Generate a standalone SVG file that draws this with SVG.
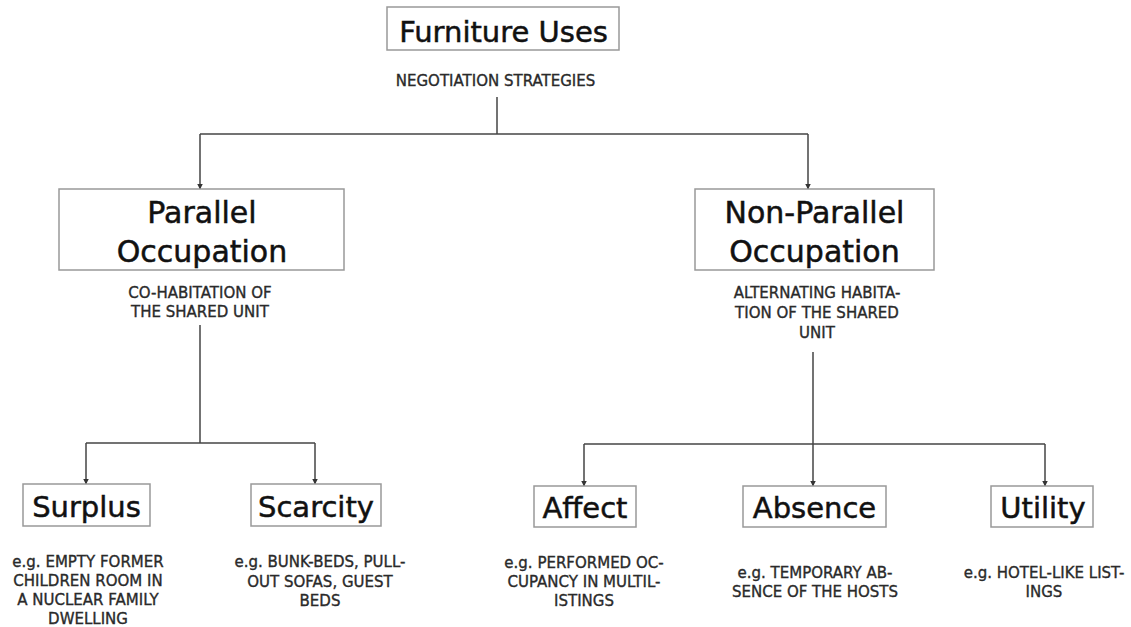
<svg xmlns="http://www.w3.org/2000/svg" width="1131" height="627" viewBox="0 0 1131 627">
  <defs>
    <marker id="arr" markerUnits="userSpaceOnUse" markerWidth="6" markerHeight="6" refX="5.5" refY="3" orient="auto">
      <path d="M0,0 L6,3 L0,6 z" fill="#333"/>
    </marker>
    <style>
      .box { fill: #fff; stroke: #999; stroke-width: 1.5; }
      .t1 { font-family: "DejaVu Sans", "Liberation Sans", sans-serif; font-size: 29px; fill: #111; stroke: #111; stroke-width: 0.5; text-anchor: middle; }
      .t2 { font-family: "DejaVu Sans", "Liberation Sans", sans-serif; font-size: 30px; fill: #111; stroke: #111; stroke-width: 0.5; text-anchor: middle; }
      .sm { font-family: "DejaVu Sans", "Liberation Sans", sans-serif; font-size: 15px; fill: #2a2a2a; stroke: #2a2a2a; stroke-width: 0.35; text-anchor: middle; }
      .ln { fill: none; stroke: #444; stroke-width: 1.5; }
    </style>
  </defs>
  <rect width="1131" height="627" fill="#fff"/>

  <g id="connectors">
    <path class="ln" d="M497,97 V134"/>
    <path class="ln" d="M200,134 H808"/>
    <path class="ln" d="M200,134 V189" marker-end="url(#arr)"/>
    <path class="ln" d="M808,134 V189" marker-end="url(#arr)"/>
    <path class="ln" d="M200,325 V443"/>
    <path class="ln" d="M86,443 H315"/>
    <path class="ln" d="M86,443 V484" marker-end="url(#arr)"/>
    <path class="ln" d="M315,443 V484" marker-end="url(#arr)"/>
    <path class="ln" d="M813,352 V444"/>
    <path class="ln" d="M584,444 H1045"/>
    <path class="ln" d="M584,444 V486" marker-end="url(#arr)"/>
    <path class="ln" d="M813,444 V486" marker-end="url(#arr)"/>
    <path class="ln" d="M1045,444 V486" marker-end="url(#arr)"/>
  </g>

  <g id="furniture-uses">
    <rect class="box" x="387" y="7" width="232" height="43"/>
    <text class="t1" x="503.5" y="42">Furniture Uses</text>
    <text class="sm" x="495.5" y="86">NEGOTIATION STRATEGIES</text>
  </g>

  <g id="parallel-occupation">
    <rect class="box" x="59" y="189" width="285" height="81"/>
    <text class="t2" x="202" y="223">Parallel</text>
    <text class="t2" x="202" y="262">Occupation</text>
    <text class="sm" x="200" y="298">CO-HABITATION OF</text>
    <text class="sm" x="200" y="317">THE SHARED UNIT</text>
  </g>

  <g id="non-parallel-occupation">
    <rect class="box" x="695" y="189" width="239" height="81"/>
    <text class="t2" x="814.5" y="223">Non-Parallel</text>
    <text class="t2" x="814.5" y="262">Occupation</text>
    <text class="sm" x="817" y="298">ALTERNATING HABITA-</text>
    <text class="sm" x="817" y="318">TION OF THE SHARED</text>
    <text class="sm" x="817" y="338">UNIT</text>
  </g>

  <g id="surplus">
    <rect class="box" x="23" y="484" width="127" height="42"/>
    <text class="t1" x="86.5" y="517">Surplus</text>
    <text class="sm" x="88" y="566.5">e.g. EMPTY FORMER</text>
    <text class="sm" x="88" y="586">CHILDREN ROOM IN</text>
    <text class="sm" x="88" y="605">A NUCLEAR FAMILY</text>
    <text class="sm" x="88" y="624">DWELLING</text>
  </g>

  <g id="scarcity">
    <rect class="box" x="251" y="484" width="130" height="42"/>
    <text class="t1" x="316" y="517">Scarcity</text>
    <text class="sm" x="320" y="567">e.g. BUNK-BEDS, PULL-</text>
    <text class="sm" x="320" y="587">OUT SOFAS, GUEST</text>
    <text class="sm" x="320" y="606">BEDS</text>
  </g>

  <g id="affect">
    <rect class="box" x="534" y="486" width="102" height="41"/>
    <text class="t1" x="585" y="518">Affect</text>
    <text class="sm" x="584" y="568">e.g. PERFORMED OC-</text>
    <text class="sm" x="584" y="587">CUPANCY IN MULTIL-</text>
    <text class="sm" x="584" y="606">ISTINGS</text>
  </g>

  <g id="absence">
    <rect class="box" x="743" y="486" width="143" height="41"/>
    <text class="t1" x="814.5" y="518">Absence</text>
    <text class="sm" x="815" y="578">e.g. TEMPORARY AB-</text>
    <text class="sm" x="815" y="597">SENCE OF THE HOSTS</text>
  </g>

  <g id="utility">
    <rect class="box" x="991" y="486" width="102" height="41"/>
    <text class="t1" x="1043" y="518">Utility</text>
    <text class="sm" x="1044" y="578">e.g. HOTEL-LIKE LIST-</text>
    <text class="sm" x="1044" y="597">INGS</text>
  </g>
</svg>
